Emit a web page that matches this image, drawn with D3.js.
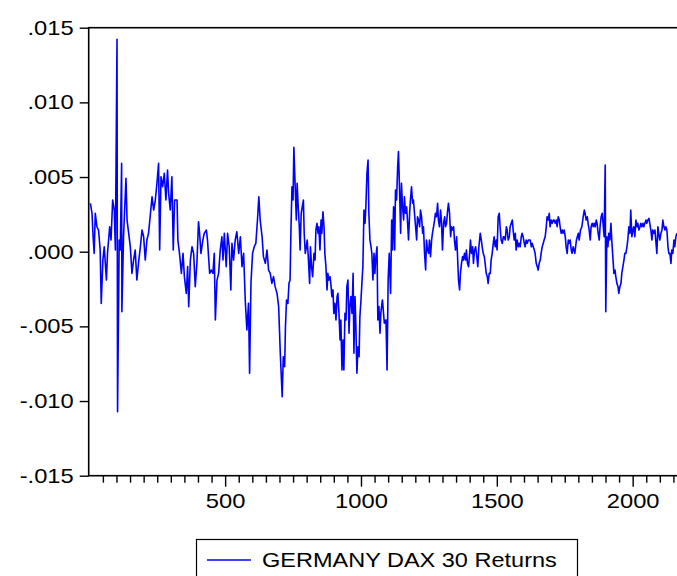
<!DOCTYPE html>
<html>
<head>
<meta charset="utf-8">
<script src="https://cdn.jsdelivr.net/npm/d3@7/dist/d3.min.js"></script>
<style>
  html, body { margin: 0; padding: 0; background: #fff; }
  svg { display: block; }
  text { font-family: "Liberation Sans", Arial, sans-serif; fill: #000; }
  .stretch-r { transform-box: fill-box; transform-origin: right center; transform: scaleX(1.13); }
  .stretch-c { transform-box: fill-box; transform-origin: center center; transform: scaleX(1.13); }
  .stretch-l { transform-box: fill-box; transform-origin: left center; transform: scaleX(1.12); }
</style>
</head>
<body>
<svg id="chart" width="677" height="576"></svg>
<script>
// Observation numbers and daily return values of the series
const obs = [
  4, 10, 14, 18, 22, 28, 34, 40, 44, 50, 55, 63, 67, 75, 80, 86, 92, 96, 102, 104,
  110, 114, 119, 120, 126, 135, 139, 145, 151, 157, 163, 169, 175, 181, 188, 194, 200, 206, 212, 218,
  224, 231, 237, 243, 249, 255, 259, 264, 270, 276, 282, 288, 292, 298, 304, 309, 314, 323, 326, 332,
  339, 345, 350, 357, 362, 366, 372, 378, 384, 390, 396, 402, 406, 411, 418, 423, 431, 435, 443, 449,
  455, 460, 464, 470, 476, 482, 488, 492, 497, 504, 509, 515, 521, 525, 531, 537, 543, 550, 556, 562,
  568, 574, 580, 586, 590, 595, 601, 607, 613, 619, 624, 629, 636, 641, 648, 654, 660, 666, 672, 678,
  684, 691, 697, 703, 710, 714, 719, 722, 726, 731, 735, 739, 742, 746, 750, 753, 757, 762, 765, 769,
  773, 776, 780, 784, 788, 791, 795, 799, 802, 806, 811, 814, 818, 822, 827, 831, 834, 838, 842, 845,
  849, 853, 856, 860, 864, 867, 871, 875, 878, 882, 886, 889, 893, 897, 900, 904, 908, 912, 915, 919,
  923, 926, 930, 934, 937, 941, 945, 948, 952, 956, 959, 963, 967, 971, 974, 978, 981, 985, 989, 993,
  996, 1000, 1004, 1007, 1011, 1015, 1018, 1022, 1026, 1029, 1033, 1037, 1040, 1044, 1048, 1051, 1055, 1059, 1062, 1066,
  1070, 1073, 1077, 1079, 1086, 1092, 1096, 1100, 1104, 1109, 1113, 1116, 1120, 1124, 1127, 1131, 1135, 1138, 1142, 1146,
  1149, 1153, 1157, 1160, 1164, 1168, 1171, 1175, 1179, 1182, 1186, 1190, 1193, 1197, 1201, 1205, 1208, 1212, 1216, 1219,
  1223, 1227, 1230, 1234, 1238, 1241, 1245, 1249, 1252, 1256, 1260, 1263, 1267, 1271, 1274, 1278, 1282, 1285, 1289, 1293,
  1296, 1300, 1304, 1308, 1311, 1315, 1319, 1322, 1326, 1330, 1333, 1337, 1341, 1344, 1348, 1352, 1355, 1359, 1363, 1366,
  1370, 1374, 1377, 1381, 1385, 1388, 1392, 1396, 1400, 1403, 1407, 1411, 1414, 1418, 1422, 1425, 1430, 1434, 1439, 1443,
  1446, 1450, 1454, 1457, 1461, 1465, 1468, 1472, 1476, 1479, 1483, 1487, 1490, 1494, 1498, 1501, 1505, 1509, 1512, 1516,
  1520, 1524, 1527, 1531, 1535, 1538, 1542, 1546, 1549, 1553, 1557, 1560, 1564, 1568, 1571, 1575, 1579, 1582, 1586, 1590,
  1593, 1597, 1601, 1604, 1608, 1612, 1616, 1619, 1623, 1627, 1630, 1634, 1638, 1641, 1645, 1649, 1652, 1656, 1660, 1663,
  1667, 1671, 1674, 1678, 1682, 1685, 1689, 1693, 1696, 1700, 1704, 1708, 1711, 1715, 1719, 1722, 1726, 1730, 1733, 1737,
  1741, 1744, 1748, 1752, 1755, 1759, 1763, 1766, 1770, 1774, 1777, 1781, 1787, 1793, 1800, 1803, 1808, 1813, 1818, 1822,
  1825, 1829, 1833, 1836, 1840, 1844, 1847, 1851, 1855, 1858, 1862, 1866, 1869, 1873, 1877, 1880, 1884, 1888, 1892, 1895,
  1899, 1901, 1905, 1909, 1912, 1916, 1920, 1923, 1927, 1931, 1935, 1938, 1942, 1946, 1949, 1953, 1957, 1960, 1964, 1968,
  1971, 1975, 1979, 1982, 1986, 1990, 1993, 1997, 2001, 2004, 2008, 2012, 2016, 2019, 2023, 2027, 2030, 2034, 2038, 2041,
  2045, 2049, 2052, 2056, 2060, 2063, 2067, 2071, 2074, 2078, 2082, 2085, 2089, 2093, 2096, 2100, 2104, 2108, 2111, 2115,
  2119, 2122, 2126, 2130, 2133, 2137, 2141, 2144, 2148, 2152, 2155, 2159, 2163
];

const returns = [
  .00324, .00257, .00100, -.00011, .00257, .00167, .00145, .00011, -.00346, -.00056, .00033, -.00190, -.00011, .00167, .00078, .00346, .00279, .00011, .01422, -.01071,
  .00078, .00011, .00592, -.00402, .00100, .00491, .00212, .00123, .00033, -.00145, -.00056, .00011, -.00190, -.00078, .00033, .00145, .00100, -.00056, .00078, .00123,
  .00234, .00368, .00279, .00346, .00458, .00592, .00011, .00502, .00435, .00525, .00346, .00547, .00391, .00279, .00502, .00011, .00346, .00346, .00078, -.00011,
  -.00145, -.00011, -.00167, -.00279, -.00100, -.00368, -.00056, .00033, -.00011, -.00234, -.00078, .00201, .00123, -.00011, .00078, .00123, .00145, .00078, -.00145, -.00123,
  -.00145, -.00011, -.00457, -.00190, -.00145, .00011, .00100, -.00056, .00123, -.00100, .00123, .00033, -.00256, .00056, -.00056, .00078, .00134, -.00011, .00100, -.00100,
  -.00011, -.00323, -.00524, -.00346, -.00814, -.00212, -.00011, .00033, .00056, .00212, .00368, .00212, .00100, -.00033, -.00078, .00011, -.00123, -.00145, -.00212, -.00167,
  -.00234, -.00279, -.00368, -.00680, -.00971, -.00703, -.00770, -.00502, -.00323, -.00346, -.00212, -.00190, .00123, .00435, .00346, .00699, .00480, .00212, .00458, .00301,
  .00167, .00011, .00257, .00301, .00346, .00123, -.00011, .00033, .00078, -.00033, -.00212, .00033, -.00100, -.00167, -.00011, -.00056, .00145, .00190, .00123, .00167,
  .00011, .00212, .00123, .00268, .00167, -.00011, -.00100, -.00256, -.00145, -.00190, -.00167, -.00212, -.00301, -.00256, -.00413, -.00346, -.00457, -.00301, -.00279, -.00413,
  -.00591, -.00457, -.00792, -.00591, -.00792, -.00413, -.00457, -.00234, -.00190, -.00546, -.00368, -.00301, -.00413, -.00145, -.00680, -.00301, -.00479, -.00814, -.00636, -.00703,
  -.00435, -.00323, -.00190, -.00100, .00279, .00190, .00301, .00525, .00614, .00257, .00078, .00033, -.00011, -.00190, -.00011, -.00145, -.00033, .00033, -.00457, -.00368,
  -.00546, -.00413, -.00346, -.00323, -.00479, -.00457, -.00792, -.00190, -.00011, -.00279, .00212, .00011, .00301, .00011, .00413, .00346, .00569, .00670, .00413, .00123,
  .00458, .00301, .00212, .00368, .00257, .00301, .00212, .00078, .00257, .00346, .00435, .00324, .00346, .00257, .00167, .00078, .00234, .00212, .00167, .00279,
  .00234, .00123, .00167, -.00011, -.00123, .00078, .00011, -.00011, .00078, -.00033, .00078, .00123, .00167, .00212, .00257, .00234, .00324, .00212, .00167, .00279,
  .00212, .00011, .00190, .00234, .00167, .00190, .00279, .00324, .00257, .00100, .00167, .00145, .00167, .00078, .00011, .00100, -.00011, -.00190, -.00256, -.00145,
  -.00078, -.00033, -.00056, -.00011, -.00056, .00011, -.00078, -.00100, -.00011, .00078, -.00011, .00033, -.00078, .00011, .00033, -.00011, -.00100, .00033, .00123, .00078,
  .00033, -.00011, -.00033, -.00078, -.00145, -.00167, -.00212, -.00145, -.00145, -.00056, -.00011, .00056, .00100, .00033, .00078, .00011, .00234, .00257, .00167, .00078,
  .00056, .00100, .00100, .00078, .00167, .00145, .00078, .00100, .00167, .00190, .00212, .00145, .00078, .00123, .00011, .00078, .00033, .00056, .00033, .00100,
  .00123, .00100, .00056, .00033, .00078, .00056, .00078, .00078, .00078, .00033, .00056, .00033, .00011, -.00011, -.00078, -.00100, -.00123, -.00078, -.00056, -.00011,
  .00033, .00056, .00078, .00100, .00167, .00234, .00212, .00257, .00167, .00212, .00190, .00212, .00212, .00190, .00212, .00167, .00234, .00212, .00167, .00123,
  .00145, .00123, .00145, .00100, .00033, -.00011, .00078, .00056, .00078, .00011, -.00011, .00033, -.00011, .00078, .00123, .00078, .00145, .00167, .00234, .00279,
  .00257, .00212, .00234, .00190, .00145, .00078, .00167, .00190, .00167, .00190, .00167, .00212, .00190, .00123, .00078, .00167, .00234, .00257, .00167, .00100,
  .00581, -.00402, .00100, .00033, .00123, .00078, .00190, .00078, -.00033, -.00145, -.00123, -.00167, -.00212, -.00234, -.00279, -.00234, -.00212, -.00145, -.00100, -.00056,
  -.00011, -.00011, .00033, .00078, .00167, .00123, .00279, .00100, .00145, .00167, .00100, .00212, .00167, .00190, .00145, .00167, .00190, .00167, .00190, .00167,
  .00190, .00212, .00190, .00212, .00223, .00190, .00145, .00078, .00145, .00123, .00145, .00078, -.00011, .00167, .00123, .00078, .00123, .00145, .00212, .00167,
  .00145, .00167, .00145, .00033, -.00011, -.00011, -.00078, .00011, -.00011, .00078, .00033, .00100, .00123
];

// Axis ticks and labels
const yTicks = [-0.015, -0.010, -0.005, 0.000, 0.005, 0.010, 0.015];
const yTickLabels = ["-.015", "-.010", "-.005", ".000", ".005", ".010", ".015"];
const xMajorTicks = [500, 1000, 1500, 2000];
const xMajorLabels = ["500", "1000", "1500", "2000"];
const xMinorStep = 50;
const xMax = 2200;
const seriesName = "GERMANY DAX 30 Returns";

const svg = d3.select("#chart");
const plot = { left: 88.7, top: 27.7, bottom: 475.7, right: 687 };

const x = d3.scaleLinear().domain([0, xMax]).range([89.3, plot.right]);
const y = d3.scaleLinear().domain([-0.015, 0.015]).range([plot.bottom, plot.top]);

const series = obs.map((o, i) => ({ o, v: returns[i] }));

// Return series
svg.append("path")
  .datum(series)
  .attr("fill", "none")
  .attr("stroke", "#0000ff")
  .attr("stroke-width", 1.6)
  .attr("stroke-linejoin", "round")
  .attr("d", d3.line().x(d => x(d.o)).y(d => y(d.v)));

// Frame around the plot area
svg.append("rect")
  .attr("x", plot.left).attr("y", plot.top)
  .attr("width", plot.right - plot.left).attr("height", plot.bottom - plot.top)
  .attr("fill", "none").attr("stroke", "#000").attr("stroke-width", 1.6);

// Left axis
const yAxis = svg.append("g")
  .attr("transform", `translate(${plot.left},0)`)
  .call(d3.axisLeft(y).tickValues(yTicks).tickSize(9).tickPadding(6)
    .tickFormat((d, i) => yTickLabels[i]));
yAxis.select(".domain").remove();
yAxis.selectAll("line").attr("stroke", "#000").attr("stroke-width", 1.4);
yAxis.selectAll("text")
  .attr("class", "stretch-r")
  .attr("font-size", 21)
  .attr("dy", "0.30em");

// Bottom axis: minor ticks every 50 observations, labelled ticks every 500
const minorTicks = d3.range(xMinorStep, xMax, xMinorStep).filter(v => !xMajorTicks.includes(v));
const xMinor = svg.append("g")
  .attr("transform", `translate(0,${plot.bottom})`)
  .call(d3.axisBottom(x).tickValues(minorTicks).tickSize(7).tickFormat(""));
xMinor.select(".domain").remove();
xMinor.selectAll("line").attr("stroke", "#000").attr("stroke-width", 1.4);

const xMajor = svg.append("g")
  .attr("transform", `translate(0,${plot.bottom})`)
  .call(d3.axisBottom(x).tickValues(xMajorTicks).tickSize(11).tickPadding(6)
    .tickFormat((d, i) => xMajorLabels[i]));
xMajor.select(".domain").remove();
xMajor.selectAll("line").attr("stroke", "#000").attr("stroke-width", 1.4);
xMajor.selectAll("text")
  .attr("class", "stretch-c")
  .attr("font-size", 21);

// Legend
const legend = svg.append("g");
legend.append("rect")
  .attr("x", 196.5).attr("y", 539.5)
  .attr("width", 381).attr("height", 60)
  .attr("fill", "#fff").attr("stroke", "#000").attr("stroke-width", 1.2);
legend.append("line")
  .attr("x1", 207).attr("x2", 251).attr("y1", 560).attr("y2", 560)
  .attr("stroke", "#0000ff").attr("stroke-width", 1.4);
legend.append("text")
  .attr("class", "stretch-l")
  .attr("x", 262).attr("y", 567)
  .attr("font-size", 21)
  .text(seriesName);
</script>
</body>
</html>
